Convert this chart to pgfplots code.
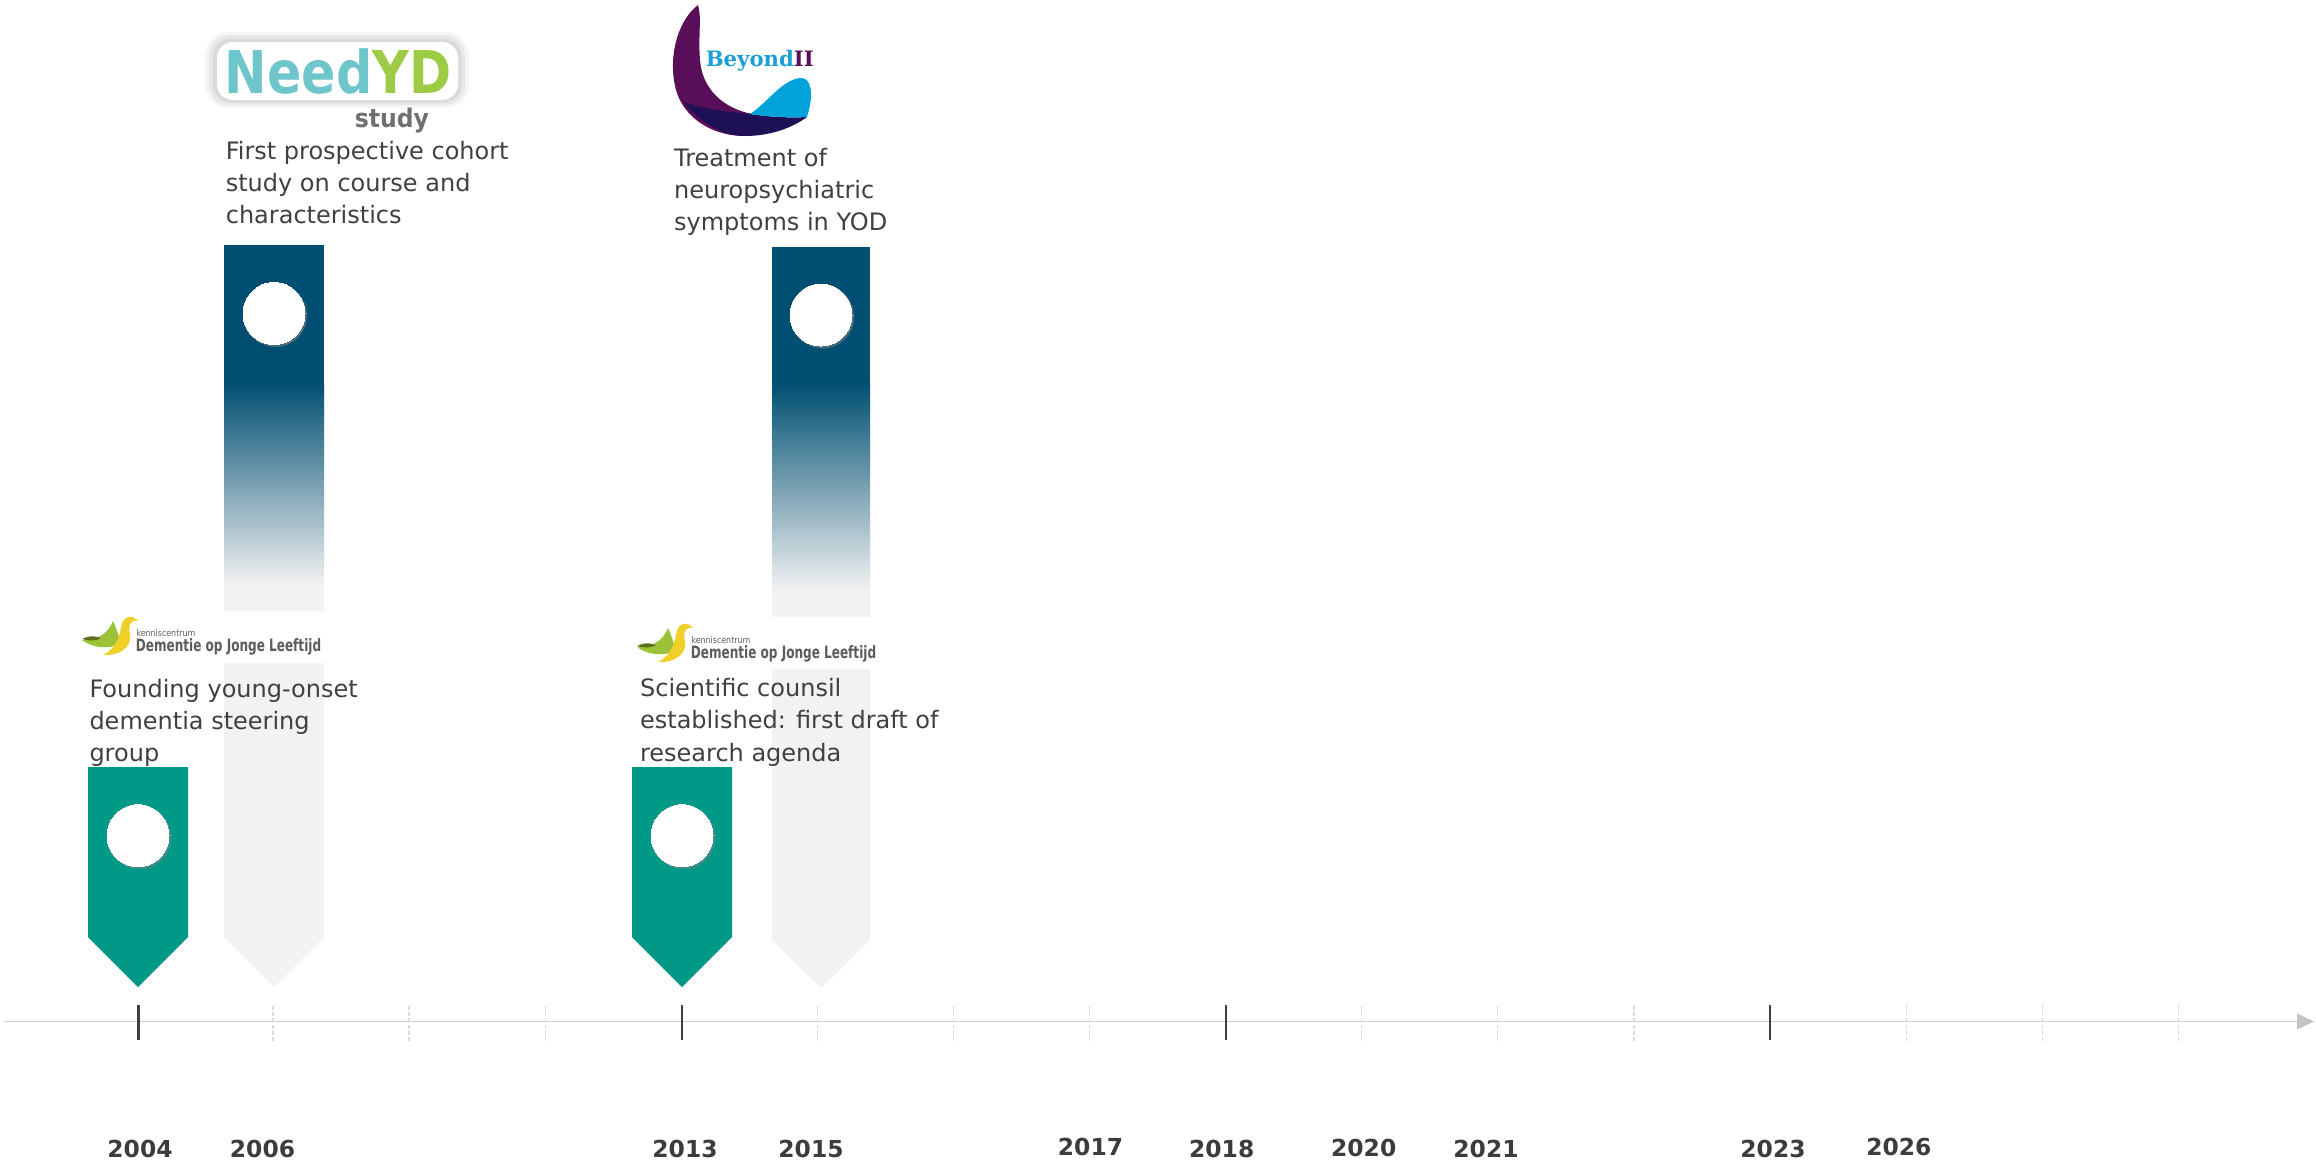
\documentclass[border=0pt]{standalone}
\usepackage{pgfplots}
\pgfplotsset{compat=1.18}
\usepackage{fontspec}
\setmainfont{DejaVu Sans}
\newfontfamily\beyondfont{DejaVu Serif}
\definecolor{teal1}{RGB}{0,153,135}
\definecolor{navy1}{RGB}{0,79,114}
\definecolor{lgray}{RGB}{242,242,242}
\definecolor{txt}{RGB}{64,64,64}
\definecolor{yeartxt}{RGB}{60,60,60}
\definecolor{axgray}{RGB}{208,208,208}
\definecolor{arrgray}{RGB}{196,196,196}
\definecolor{ticdark}{RGB}{64,64,64}
\definecolor{ticlight}{RGB}{218,218,218}
\definecolor{needc}{RGB}{110,198,202}
\definecolor{ydc}{RGB}{157,203,69}
\definecolor{studyc}{RGB}{112,112,112}
\definecolor{bpurple}{RGB}{88,14,88}
\definecolor{bnavy}{RGB}{30,16,86}
\definecolor{bblue}{RGB}{0,163,217}
\definecolor{btxt}{RGB}{27,159,213}
\definecolor{dyellow}{RGB}{240,208,40}
\definecolor{dgreen}{RGB}{155,195,55}
\definecolor{dolive}{RGB}{95,110,30}
\definecolor{dtext}{RGB}{92,92,92}
\definecolor{shad}{RGB}{120,130,135}

\newcommand{\desc}{\fontsize{6}{7}\selectfont}
\newcommand{\yr}{\fontsize{5.85}{7}\selectfont\bfseries}

\newcommand{\dlogo}[2]{%
\begin{scope}[shift={(axis direction cs:#1,#2)}]
 \fill[dgreen] (113,621) .. controls (108,634) and (96,641) .. (82,640) .. controls (92,648) and (110,650) .. (121,643) .. controls (118,634) and (116,627) .. (113,621) -- cycle;
 \fill[dolive] (82,639) .. controls (90,635) and (97,636) .. (101,638.5) .. controls (95,641) and (88,641) .. (82,639) -- cycle;
 \fill[dyellow] (103,655) .. controls (118,648) and (120,632) .. (122,624) .. controls (124,616) and (132,614) .. (138,621) .. controls (130,619) and (128,626) .. (130,635) .. controls (132,648) and (118,656) .. (103,655) -- cycle;
 \node[anchor=base west, inner sep=0, text=dtext] at (135.7,636) {\scalebox{0.86}[1]{\fontsize{2.3}{3}\selectfont kenniscentrum}};
 \node[anchor=base west, inner sep=0, text=dtext] at (135,651.7) {\scalebox{0.71}[1]{\fontsize{4.25}{5}\selectfont\bfseries Dementie op Jonge Leeftijd}};
\end{scope}}

\begin{document}
\begin{tikzpicture}
\begin{axis}[
  scale only axis, width=579pt, height=291.75pt,
  xmin=0, xmax=2316, ymin=0, ymax=1167, y dir=reverse,
  hide axis, clip=false,
  unbounded coords=jump,
]
% background (sets the picture extent)
\addplot[fill=white, draw=none] coordinates {(0,0) (2316,0) (2316,1167) (0,1167)};

% grey pennants (2006, 2015)
\addplot[fill=lgray, draw=none] coordinates {(224,245) (324,245) (324,937) (274,987) (224,937)};
\addplot[fill=lgray, draw=none] coordinates {(772,246.5) (870,246.5) (870,940) (821,988) (772,940)};
% dark blue parts with fade
\addplot[fill=navy1, draw=none] coordinates {(224,245) (324,245) (324,384) (224,384)};
\addplot[draw=none, top color=navy1, bottom color=lgray] coordinates {(224,383) (324,383) (324,585) (224,585)};
\addplot[fill=navy1, draw=none] coordinates {(772,246.5) (870,246.5) (870,384) (772,384)};
\addplot[draw=none, top color=navy1, bottom color=lgray] coordinates {(772,383) (870,383) (870,590) (772,590)};
% white behind logos
\addplot[fill=white, draw=none] coordinates {(222,611) (326,611) (326,663) (222,663)};
\addplot[fill=white, draw=none] coordinates {(770,617) (872,617) (872,669) (770,669)};

% teal pennants (2004, 2013)
\addplot[fill=teal1, draw=none] coordinates {(88,767) (188,767) (188,937) (138,987) (88,937)};
\addplot[fill=teal1, draw=none] coordinates {(632,767) (732,767) (732,937) (682,987) (632,937)};

% circles (soft shadow, then white disc)
\addplot[only marks, mark=*, mark size=7.75pt, color=shad, opacity=0.45, mark options={draw=none, fill=shad}] coordinates {(139.5,837.5) (683.5,837.5) (275.5,315.3) (822.5,316.8)};
\addplot[only marks, mark=*, mark size=7.75pt, color=white, mark options={draw=white, fill=white, line width=0pt}] coordinates {(138,835.7) (682,835.7) (274,313.5) (821,315)};

% time axis
\addplot[color=axgray, line width=0.45pt] coordinates {(4,1021.5) (2300,1021.5)};
\addplot[fill=arrgray, draw=none] coordinates {(2297,1013.5) (2314,1021.5) (2297,1029.5)};
\addplot[color=ticlight, line width=0.3pt, dash pattern=on 1pt off 0.55pt] coordinates {
 (272.9,1006) (272.9,1041) (272.9,nan)
 (409.0,1006) (409.0,1041) (409.0,nan)
 (545.1,1006) (545.1,1041) (545.1,nan)
 (817.3,1006) (817.3,1041) (817.3,nan)
 (953.4,1006) (953.4,1041) (953.4,nan)
 (1089.5,1006) (1089.5,1041) (1089.5,nan)
 (1361.7,1006) (1361.7,1041) (1361.7,nan)
 (1497.8,1006) (1497.8,1041) (1497.8,nan)
 (1633.9,1006) (1633.9,1041) (1633.9,nan)
 (1906.1,1006) (1906.1,1041) (1906.1,nan)
 (2042.2,1006) (2042.2,1041) (2042.2,nan)
 (2178.3,1006) (2178.3,1041)};
\addplot[color=ticdark, line width=0.55pt] coordinates {
 (138.5,1005) (138.5,1040) (138.5,nan)
 (681.9,1005) (681.9,1040) (681.9,nan)
 (1225.6,1005) (1225.6,1040) (1225.6,nan)
 (1770,1005) (1770,1040)};

% year labels
\node[anchor=base, inner sep=0, text=yeartxt] at (140,1157.5) {\yr 2004};
\node[anchor=base, inner sep=0, text=yeartxt] at (262.5,1157.5) {\yr 2006};
\node[anchor=base, inner sep=0, text=yeartxt] at (685,1157.5) {\yr 2013};
\node[anchor=base, inner sep=0, text=yeartxt] at (811,1157.5) {\yr 2015};
\node[anchor=base, inner sep=0, text=yeartxt] at (1090.5,1155.7) {\yr 2017};
\node[anchor=base, inner sep=0, text=yeartxt] at (1221.7,1157.5) {\yr 2018};
\node[anchor=base, inner sep=0, text=yeartxt] at (1363.7,1156.7) {\yr 2020};
\node[anchor=base, inner sep=0, text=yeartxt] at (1486,1157.5) {\yr 2021};
\node[anchor=base, inner sep=0, text=yeartxt] at (1773,1157.5) {\yr 2023};
\node[anchor=base, inner sep=0, text=yeartxt] at (1898.8,1155) {\yr 2026};

% descriptions
\node[anchor=base west, inner sep=0, text=txt] at (225,159.2) {\desc First prospective cohort};
\node[anchor=base west, inner sep=0, text=txt] at (225,191.7) {\desc study on course and};
\node[anchor=base west, inner sep=0, text=txt] at (225,223.3) {\desc characteristics};
\node[anchor=base west, inner sep=0, text=txt] at (673.3,166.7) {\desc Treatment of};
\node[anchor=base west, inner sep=0, text=txt] at (673.3,198.3) {\desc neuropsychiatric};
\node[anchor=base west, inner sep=0, text=txt] at (673.3,230) {\desc symptoms in YOD};
\node[anchor=base west, inner sep=0, text=txt] at (88.7,697.3) {\desc Founding young-onset};
\node[anchor=base west, inner sep=0, text=txt] at (88.7,729) {\desc dementia steering};
\node[anchor=base west, inner sep=0, text=txt] at (88.7,761.7) {\desc group};
\node[anchor=base west, inner sep=0, text=txt] at (639.3,696.7) {\desc Scientific counsil};
\node[anchor=base west, inner sep=0, text=txt] at (639.3,728.3) {\desc established: first draft of};
\node[anchor=base west, inner sep=0, text=txt] at (639.3,761.7) {\desc research agenda};

% logos: kenniscentrum
\dlogo{0}{0}
\dlogo{555}{7}

% NeedYD logo
\fill[black, opacity=0.04, rounded corners=6pt] (205,32) rectangle (469,108);
\fill[black, opacity=0.05, rounded corners=5pt] (209,35) rectangle (465,105);
\fill[black, opacity=0.06, rounded corners=4.5pt] (213,38.5) rectangle (461.5,102.5);
\fill[white, rounded corners=4pt] (217,42) rectangle (458,100);
\node[anchor=base west, inner sep=0] at (224,94) {\scalebox{0.86}[1]{\fontsize{14.75}{16}\selectfont\bfseries\color{needc}Need\color{ydc}YD}};
\node[anchor=base west, inner sep=0, text=studyc] at (354,127) {\scalebox{0.92}[1]{\fontsize{6.4}{7}\selectfont\bfseries study}};

% Beyond II logo
\fill[bpurple] (698,5) .. controls (676,22) and (668,60) .. (676,90) .. controls (684,118) and (712,136) .. (745,136) -- (752,114) .. controls (722,108) and (702,88) .. (700,60) .. controls (698,35) and (702,18) .. (698,5) -- cycle;
\fill[bnavy] (683,102) .. controls (700,122) and (722,136) .. (745,136) .. controls (770,136) and (792,128) .. (807,117) .. controls (790,118) and (770,117) .. (750,114) .. controls (725,112) and (700,108) .. (683,102) -- cycle;
\fill[bblue] (750,114) .. controls (768,102) and (782,80) .. (800,78) .. controls (812,77) and (814,95) .. (807,117) .. controls (790,118) and (770,117) .. (750,114) -- cycle;
\node[anchor=base west, inner sep=0] at (705,66.7) {\beyondfont\bfseries\fontsize{5.3}{6}\selectfont\color{btxt}Beyond\color{bpurple}II};
\end{axis}
\end{tikzpicture}
\end{document}
